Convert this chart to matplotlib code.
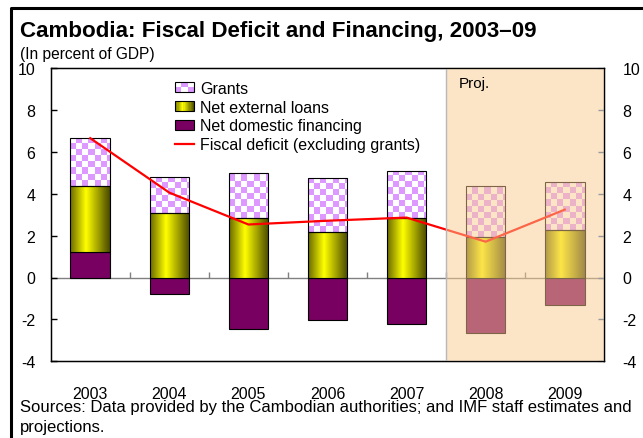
import numpy as np
import matplotlib
matplotlib.use('Agg')
import matplotlib.pyplot as plt
from matplotlib.patches import Rectangle, Patch
from matplotlib.lines import Line2D
from matplotlib.colors import LinearSegmentedColormap
from matplotlib.legend_handler import HandlerBase

plt.rcParams['font.family'] = ['Liberation Sans', 'DejaVu Sans']
plt.rcParams['axes.unicode_minus'] = False

# Fiscal deficit and its financing, percent of GDP
years = ['2003', '2004', '2005', '2006', '2007', '2008', '2009']
grants = [2.26, 1.71, 2.15, 2.61, 2.24, 2.44, 2.29]
external_loans = [3.16, 3.10, 2.82, 2.15, 2.82, 1.91, 2.28]
domestic = [1.22, -0.77, -2.44, -2.04, -2.20, -2.63, -1.32]
deficit = [6.65, 4.05, 2.53, 2.71, 2.86, 1.71, 3.24]
first_proj = 5  # 2008 onward are projections

VIOLET = '#DD99FF'
PURPLE = '#770060'
loan_cmap = LinearSegmentedColormap.from_list(
    'loan', [(0, '#6a6a00'), (0.4, '#ffff00'), (1, '#4a4a00')])

W, H = 643, 439
fig = plt.figure(figsize=(W / 100, H / 100), dpi=100)
ax = fig.add_axes([50.7 / W, 1 - 362.3 / H, (604.3 - 50.7) / W, (362.3 - 69) / H])

n = len(years)
x = np.arange(n)
bw = 0.5
ax.set_xlim(-0.5, n - 0.5)
ax.set_ylim(-4, 10)

# pixel size of one data unit, for the checker cells
p0 = ax.transData.transform((0, 0))
p1 = ax.transData.transform((1, 1))
px_x, px_y = p1[0] - p0[0], p1[1] - p0[1]
cell_w = 6.1 / px_x
cell_h = 6.1 / px_y

ax.axhline(0, color='#808080', lw=1, zorder=1)
ax.plot(x[:-1] + 0.5, np.zeros(n - 1), ls='none', marker=2, ms=4,
        mew=1, color='#808080', zorder=1)

for i in range(n):
    x0 = x[i] - bw / 2
    # domestic financing
    ax.add_patch(Rectangle((x0, 0), bw, domestic[i], facecolor=PURPLE,
                           edgecolor='black', lw=0.8, zorder=2))
    # external loans with horizontal shading
    b = max(domestic[i], 0)
    grad = np.linspace(0, 1, 64).reshape(1, -1)
    ax.imshow(grad, cmap=loan_cmap, extent=(x0, x0 + bw, b, b + external_loans[i]),
              aspect='auto', interpolation='bilinear', zorder=2)
    ax.add_patch(Rectangle((x0, b), bw, external_loans[i], facecolor='none',
                           edgecolor='black', lw=0.8, zorder=3))
    # grants, checkered
    gb = b + external_loans[i]
    ncol = int(np.ceil(bw / cell_w))
    nrow = int(np.ceil(grants[i] / cell_h))
    chk = (np.add.outer(np.arange(nrow), np.arange(ncol)) % 2)
    img = np.where(chk[..., None] == 0, np.array([221, 153, 255]) / 255, 1.0)
    im = ax.imshow(img, extent=(x0, x0 + ncol * cell_w, gb, gb + nrow * cell_h),
                   origin='lower', aspect='auto', interpolation='nearest', zorder=2)
    box = Rectangle((x0, gb), bw, grants[i], facecolor='none',
                    edgecolor='black', lw=0.8, zorder=3)
    ax.add_patch(box)
    im.set_clip_path(box)

ax.plot(x, deficit, color='red', lw=1.6, zorder=4)

ax.set_xlim(-0.5, n - 0.5)
ax.set_ylim(-4, 10)

# projection shading
ax.add_patch(Rectangle((first_proj - 0.5, -4), n - first_proj, 14,
                       facecolor=(251 / 255, 203 / 255, 145 / 255, 0.5),
                       edgecolor='#b8b8b8', lw=1, zorder=5))
ax.annotate('Proj.', (first_proj - 0.5, 10), xytext=(9, -6),
            textcoords='offset points', ha='left', va='top', fontsize=11, zorder=6)

ax.set_xticks(x)
ax.set_xticklabels(years, fontsize=11.5)
ax.tick_params(axis='x', length=0, pad=17.5)
ax.set_yticks(np.arange(-4, 11, 2))
ax.tick_params(axis='y', direction='in', length=4, width=1, labelsize=11.5, pad=11)
for s in ax.spines.values():
    s.set_linewidth(1)

ax2 = ax.twinx()
ax2.set_ylim(-4, 10)
ax2.set_yticks(np.arange(-4, 11, 2))
ax2.tick_params(axis='y', direction='in', length=4, width=1, color='#999999',
                labelsize=11.5, pad=13)


class CheckerHandler(HandlerBase):
    def create_artists(self, legend, orig_handle, xdescent, ydescent,
                       width, height, fontsize, trans):
        arts = []
        nx, ny = 3, 2
        cw, ch = width / nx, height / ny
        for i in range(nx):
            for j in range(ny):
                c = VIOLET if (i + j) % 2 == 0 else 'white'
                arts.append(Rectangle((-xdescent + i * cw, -ydescent + j * ch), cw, ch,
                                      facecolor=c, edgecolor='none', transform=trans))
        arts.append(Rectangle((-xdescent, -ydescent), width, height, facecolor='none',
                              edgecolor='black', lw=0.8, transform=trans))
        return arts


class GradientHandler(HandlerBase):
    def create_artists(self, legend, orig_handle, xdescent, ydescent,
                       width, height, fontsize, trans):
        arts = []
        k = 16
        sw = width / k
        for i in range(k):
            arts.append(Rectangle((-xdescent + i * sw, -ydescent), sw * 1.05, height,
                                  facecolor=loan_cmap((i + 0.5) / k), edgecolor='none',
                                  transform=trans))
        arts.append(Rectangle((-xdescent, -ydescent), width, height, facecolor='none',
                              edgecolor='black', lw=0.8, transform=trans))
        return arts


grant_h = Patch(facecolor=VIOLET)
loan_h = Patch(facecolor='yellow')
dom_h = Patch(facecolor=PURPLE, edgecolor='black', lw=0.8)
line_h = Line2D([], [], color='red', lw=1.6)
ax.legend([grant_h, loan_h, dom_h, line_h],
          ['Grants', 'Net external loans', 'Net domestic financing',
           'Fiscal deficit (excluding grants)'],
          handler_map={grant_h: CheckerHandler(), loan_h: GradientHandler()},
          loc='upper left', bbox_to_anchor=(175 / W, 1 - 82 / H),
          bbox_transform=fig.transFigure, frameon=False, fontsize=11.5,
          borderpad=0, borderaxespad=0, handlelength=1.2, handleheight=0.6,
          handletextpad=0.35, labelspacing=0.23)

fig.text(20 / W, 1 - 37.5 / H, 'Cambodia: Fiscal Deficit and Financing, 2003\u201309',
         fontsize=16.1, fontweight='bold', va='baseline', ha='left')
fig.text(20 / W, 1 - 59.5 / H, '(In percent of GDP)', fontsize=11.2, va='baseline', ha='left')
fig.text(20 / W, 1 - 412.5 / H,
         'Sources: Data provided by the Cambodian authorities; and IMF staff estimates and',
         fontsize=12, va='baseline', ha='left')
fig.text(20 / W, 1 - 432 / H, 'projections.', fontsize=12, va='baseline', ha='left')

# outer frame (left and top edges)
fig.add_artist(Line2D([11 / W, 11 / W, 1], [0, 1 - 9 / H, 1 - 9 / H],
                      color='black', lw=2.2, transform=fig.transFigure))

fig.savefig('out.png', dpi=100)
